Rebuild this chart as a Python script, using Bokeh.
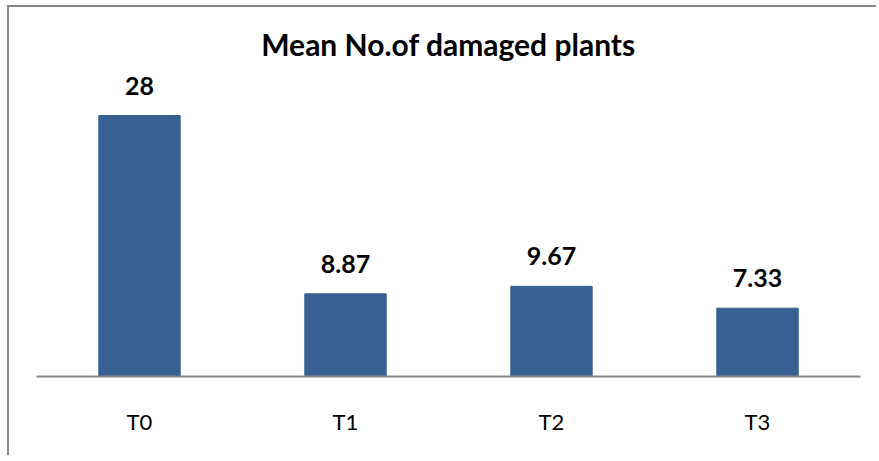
from bokeh.plotting import figure
from bokeh.models import ColumnDataSource, Range1d
from bokeh.core.properties import value
from bokeh.embed import file_html
from bokeh.resources import INLINE

categories = ["T0", "T1", "T2", "T3"]
means = [28, 8.87, 9.67, 7.33]
labels = ["28", "8.87", "9.67", "7.33"]

FONT = "Lato"
BAR = "#386092"
GRAY = "#868686"

src = ColumnDataSource(dict(x=categories, top=means, label=labels))

p = figure(x_range=categories, y_range=Range1d(0, 32.83),
           width=869, height=450, output_backend="svg", toolbar_location=None,
           min_border_left=27, min_border_right=18, min_border_top=63, min_border_bottom=81,
           title="Mean No.of damaged plants")
# chart-area border: only the left and top edges of the chart box are visible in the crop
p.styles = {"margin-left": "9px", "margin-top": "7px",
            "box-shadow": "-2px -2px 0 0 " + GRAY}
p.x_range.range_padding = 0
p.title.align = "center"
p.title.text_font = FONT
p.title.text_font_size = "30px"
p.title.text_font_style = "bold"
p.title.text_color = "black"
p.title.standoff = 17

p.vbar(x="x", top="top", width=0.395, source=src, color=BAR, line_color=BAR)
p.text(x="x", y="top", text="label", source=src, text_align="center",
       text_baseline="alphabetic", y_offset=-30, text_font=value(FONT),
       text_font_size="25px", text_font_style="bold", text_color="black")

p.yaxis.visible = False
p.grid.visible = False
p.outline_line_color = None
p.xaxis.axis_line_color = GRAY
p.xaxis.axis_line_width = 2
p.xaxis.major_tick_line_color = None
p.xaxis.minor_tick_line_color = None
p.xaxis.major_tick_out = 0
p.xaxis.major_label_standoff = 31
p.xaxis.major_label_text_font = FONT
p.xaxis.major_label_text_font_size = "22px"
p.xaxis.major_label_text_color = "black"

open("out.html", "w").write(file_html(p, INLINE))
